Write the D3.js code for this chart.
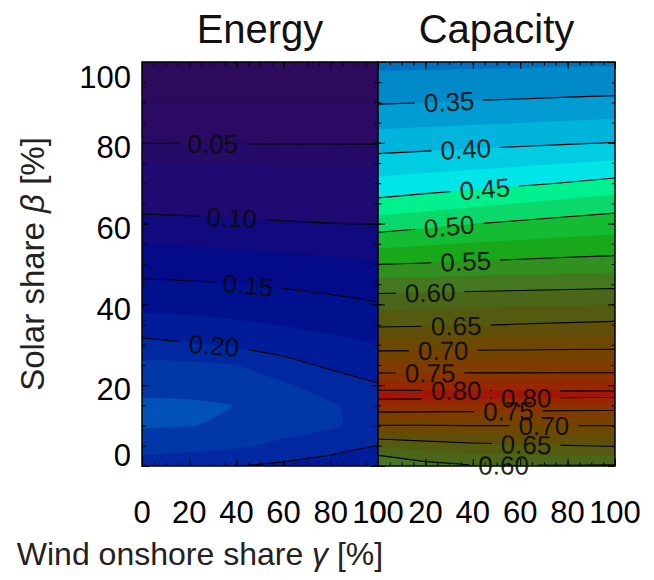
<!DOCTYPE html>
<html>
<head>
<meta charset="utf-8">
<script src="https://cdn.jsdelivr.net/npm/d3@7"></script>
<style>
  body { margin: 0; background: #fff; }
  svg { display: block; font-family: "Liberation Sans", Arial, Helvetica, sans-serif; }
</style>
</head>
<body>
<div id="chart"></div>
<script>
// grid columns: wind onshore share gamma [%]
const energyGamma = [0, 10, 20, 30, 40, 60, 80, 100];
const capacityGamma = [0, 20, 40, 60, 80, 100];

// grid rows: solar share beta [%]
const energyBeta = [0, 5, 10, 15, 20, 25, 30, 35, 40, 45, 50, 55, 60, 65, 70, 75, 80, 85, 90, 95, 100];
const capacityBeta = [0, 2.5, 5, 7.5, 10, 12.5, 15, 17.5, 20, 22.5, 25, 30, 35, 40, 45, 50, 55, 60, 65, 70, 75, 80, 85, 90, 95, 100];

// one row per beta, one value per gamma column
const energyGrid = [
  [0.215, 0.211, 0.207, 0.2038, 0.2005, 0.195, 0.190, 0.185],
  [0.2345, 0.234, 0.2335, 0.231, 0.2285, 0.2194, 0.2083, 0.1994],
  [0.252, 0.2512, 0.2505, 0.2488, 0.247, 0.2345, 0.2285, 0.2155],
  [0.2544, 0.2542, 0.2535, 0.2522, 0.2497, 0.2375, 0.2278, 0.2142],
  [0.2424, 0.242, 0.2415, 0.2392, 0.236, 0.2283, 0.2135, 0.2013],
  [0.2313, 0.2306, 0.2298, 0.2275, 0.2252, 0.2083, 0.1958, 0.1882],
  [0.2078, 0.205, 0.2023, 0.1994, 0.1964, 0.1891, 0.1819, 0.1752],
  [0.1844, 0.1835, 0.1825, 0.1806, 0.1786, 0.1737, 0.1688, 0.1633],
  [0.1677, 0.1672, 0.1666, 0.1653, 0.1639, 0.1605, 0.1563, 0.1516],
  [0.1537, 0.1531, 0.1525, 0.1514, 0.1502, 0.1472, 0.1434, 0.1396],
  [0.1394, 0.1388, 0.1381, 0.137, 0.1358, 0.133, 0.1303, 0.1274],
  [0.1252, 0.1241, 0.1231, 0.1219, 0.1207, 0.1178, 0.1156, 0.1135],
  [0.1058, 0.1052, 0.1045, 0.1037, 0.1029, 0.1013, 0.1002, 0.0995],
  [0.0936, 0.0934, 0.0931, 0.0928, 0.0925, 0.0919, 0.0914, 0.091],
  [0.0845, 0.0843, 0.0841, 0.0839, 0.0836, 0.0831, 0.0828, 0.0825],
  [0.0754, 0.0753, 0.0752, 0.0746, 0.0739, 0.0729, 0.0724, 0.0719],
  [0.0493, 0.0492, 0.049, 0.0489, 0.0488, 0.0486, 0.0486, 0.0484],
  [0.0371, 0.0371, 0.037, 0.037, 0.0369, 0.0368, 0.0368, 0.0367],
  [0.0252, 0.0252, 0.0252, 0.0252, 0.0252, 0.0252, 0.0252, 0.0252],
  [0.0185, 0.0185, 0.0185, 0.0185, 0.0185, 0.0185, 0.0185, 0.0185],
  [0.012, 0.012, 0.012, 0.012, 0.012, 0.012, 0.012, 0.012]
];

const capacityGrid = [
  [0.585, 0.592, 0.598, 0.598, 0.598, 0.597],
  [0.5989, 0.6104, 0.6189, 0.621, 0.6226, 0.6244],
  [0.628, 0.6365, 0.6425, 0.646, 0.6489, 0.6519],
  [0.6606, 0.6658, 0.6702, 0.6728, 0.6745, 0.676],
  [0.6985, 0.6987, 0.7002, 0.7002, 0.7002, 0.7002],
  [0.7364, 0.7353, 0.7347, 0.7329, 0.7321, 0.7313],
  [0.7776, 0.7759, 0.7741, 0.7707, 0.769, 0.7672],
  [0.8144, 0.8132, 0.812, 0.8104, 0.8091, 0.8078],
  [0.7854, 0.7863, 0.7872, 0.7872, 0.7882, 0.7892],
  [0.7549, 0.755, 0.7551, 0.7551, 0.7553, 0.7554],
  [0.7313, 0.7313, 0.7316, 0.7316, 0.7319, 0.7319],
  [0.6866, 0.6873, 0.6885, 0.6892, 0.6903, 0.6907],
  [0.6449, 0.6466, 0.6483, 0.6508, 0.653, 0.655],
  [0.6169, 0.6182, 0.6195, 0.6212, 0.6226, 0.6241],
  [0.5855, 0.5871, 0.5889, 0.5904, 0.592, 0.5934],
  [0.5494, 0.5514, 0.5542, 0.5562, 0.5587, 0.5605],
  [0.5177, 0.5221, 0.5263, 0.5295, 0.5327, 0.5351],
  [0.4867, 0.4928, 0.4994, 0.5045, 0.5093, 0.5132],
  [0.4566, 0.4627, 0.4689, 0.4753, 0.4817, 0.4878],
  [0.4324, 0.4364, 0.4408, 0.4459, 0.4512, 0.4573],
  [0.4099, 0.4131, 0.4165, 0.4201, 0.4242, 0.4287],
  [0.3886, 0.3909, 0.3933, 0.3954, 0.3979, 0.4004],
  [0.3683, 0.3702, 0.3725, 0.3744, 0.3767, 0.3789],
  [0.3483, 0.3496, 0.3517, 0.3534, 0.3555, 0.3573],
  [0.3312, 0.3318, 0.3326, 0.3336, 0.3346, 0.3355],
  [0.32, 0.32, 0.321, 0.321, 0.322, 0.322]
];

// filled levels every 0.025, lines every 0.05
const fillLevels = [0, 0.025, 0.05, 0.075, 0.10, 0.125, 0.15, 0.175, 0.20, 0.225, 0.25, 0.275,
  0.30, 0.325, 0.35, 0.375, 0.40, 0.425, 0.45, 0.475, 0.50, 0.525, 0.55, 0.575,
  0.60, 0.625, 0.65, 0.675, 0.70, 0.725, 0.75, 0.775, 0.80, 0.825];
const energyLineLevels = [0.05, 0.10, 0.15, 0.20];
const capacityLineLevels = [0.35, 0.40, 0.45, 0.50, 0.55, 0.60, 0.65, 0.70, 0.75, 0.80];

// where the line labels sit (gamma) and which branch of the line
const energyLabels = [
  { level: 0.05, gamma: 30, branch: "upper" },
  { level: 0.10, gamma: 38, branch: "upper" },
  { level: 0.15, gamma: 45, branch: "upper" },
  { level: 0.20, gamma: 30.5, branch: "upper" }
];
const capacityLabels = [
  { level: 0.35, gamma: 30, branch: "upper" },
  { level: 0.40, gamma: 37, branch: "upper" },
  { level: 0.45, gamma: 45, branch: "upper" },
  { level: 0.50, gamma: 30, branch: "upper" },
  { level: 0.55, gamma: 37, branch: "upper" },
  { level: 0.60, gamma: 22, branch: "upper" },
  { level: 0.65, gamma: 33, branch: "upper" },
  { level: 0.70, gamma: 27.5, branch: "upper" },
  { level: 0.75, gamma: 22, branch: "upper" },
  { level: 0.80, gamma: 33, branch: "upper" },
  { level: 0.80, gamma: 62.5, branch: "lower" },
  { level: 0.75, gamma: 55, branch: "lower" },
  { level: 0.70, gamma: 70, branch: "lower" },
  { level: 0.65, gamma: 62.5, branch: "lower" },
  { level: 0.60, gamma: 53, branch: "lower" }
];

const majorTicks = [0, 20, 40, 60, 80, 100];
const minorTicks = d3.range(0, 101, 5);

// colour of each filled band, one per fill level
const bandColors = ["#2d0b5c", "#2a0a62", "#260a68", "#1e0a70", "#100a7e", "#040b88", "#00118f", "#001c98",
  "#0028a0", "#0038a8", "#0052b8", "#0062bc", "#0070c0", "#008aca", "#009cd2", "#00b4dc",
  "#00cce2", "#00e6e8", "#00f08e", "#0ad86a", "#14bc34", "#18a81a", "#309020", "#44781e",
  "#4a6618", "#545a10", "#604f08", "#6c4802", "#764200", "#803c00", "#8c3200", "#982600",
  "#a41408", "#b00808"];

const W = 654, H = 580;
const plotTop = 62, plotBottom = 466;

const panels = [
  { title: "Energy", x0: 142, x1: 378, grid: energyGrid, cols: energyGamma, rows: energyBeta, lines: energyLineLevels, labels: energyLabels },
  { title: "Capacity", x0: 378, x1: 615, grid: capacityGrid, cols: capacityGamma, rows: capacityBeta, lines: capacityLineLevels, labels: capacityLabels }
];

const svg = d3.select("#chart").append("svg").attr("width", W).attr("height", H);
const defs = svg.append("defs");

const y = d3.scaleLinear().domain([0, 100]).range([plotBottom, plotTop]);

// where d3.contours puts a sample inside its cell
const probe = d3.contours().size([2, 1]).thresholds([0.5])([0, 1]);
const cellOff = d3.min(probe[0].coordinates[0][0], p => p[0]) - 0.5;

panels.forEach((p, pi) => {
  const x = d3.scaleLinear().domain([0, 100]).range([p.x0, p.x1]);
  const nx = p.cols.length, ny = p.rows.length;
  const colScale = d3.scaleLinear().domain(p.cols.map((d, i) => i + cellOff)).range(p.cols);
  const rowScale = d3.scaleLinear().domain(p.rows.map((d, j) => j + cellOff)).range(p.rows);
  const px = c => x(colScale(c));
  const py = r => y(rowScale(r));
  const path = d3.geoPath(d3.geoTransform({
    point(cx, cy) { this.stream.point(px(cx), py(cy)); }
  }));
  const values = p.grid.flat();

  defs.append("clipPath").attr("id", `clip${pi}`)
    .append("rect")
    .attr("x", p.x0).attr("y", plotTop)
    .attr("width", p.x1 - p.x0).attr("height", plotBottom - plotTop);

  const plot = svg.append("g").attr("clip-path", `url(#clip${pi})`);

  // filled bands
  plot.append("g")
    .selectAll("path")
    .data(d3.contours().size([nx, ny]).thresholds(fillLevels)(values))
    .join("path")
    .attr("d", path)
    .attr("fill", (d, i) => bandColors[i])
    .attr("stroke", (d, i) => bandColors[i])
    .attr("stroke-width", 0.4);

  // contour lines, with gaps under the labels
  const mask = defs.append("mask").attr("id", `gap${pi}`)
    .attr("maskUnits", "userSpaceOnUse")
    .attr("x", 0).attr("y", 0).attr("width", W).attr("height", H);
  mask.append("rect").attr("width", W).attr("height", H).attr("fill", "white");

  plot.append("g")
    .attr("mask", `url(#gap${pi})`)
    .selectAll("path")
    .data(d3.contours().size([nx, ny]).thresholds(p.lines)(values))
    .join("path")
    .attr("d", path)
    .attr("fill", "none")
    .attr("stroke", "#000")
    .attr("stroke-width", 1.1);

  // labels on the lines
  const labelG = svg.append("g");
  p.labels.forEach(lb => {
    const c = d3.contours().size([nx, ny]).thresholds([lb.level])(values)[0];
    const X = x(lb.gamma);
    const hits = [];
    c.coordinates.forEach(poly => poly.forEach(ring => {
      for (let k = 0; k < ring.length - 1; k++) {
        const ax = px(ring[k][0]), ay = py(ring[k][1]);
        const bx = px(ring[k + 1][0]), by = py(ring[k + 1][1]);
        if (ax === bx || (ax - X) * (bx - X) > 0) continue;
        const t = (X - ax) / (bx - ax);
        const yy = ay + t * (by - ay);
        if (yy < plotTop || yy > plotBottom) continue;
        let a = Math.atan2(by - ay, bx - ax) * 180 / Math.PI;
        if (a > 90) a -= 180;
        if (a < -90) a += 180;
        hits.push({ y: yy, a });
      }
    }));
    if (!hits.length) return;
    const h = lb.branch === "upper" ? d3.least(hits, d => d.y) : d3.greatest(hits, d => d.y);
    const txt = labelG.append("text")
      .attr("transform", `translate(${X},${h.y}) rotate(${h.a})`)
      .attr("text-anchor", "middle")
      .attr("dy", "0.36em")
      .attr("font-size", 26)
      .attr("fill", "#0a0a0a")
      .attr("fill-opacity", 0.9)
      .text(lb.level.toFixed(2));
    const w = txt.node().getComputedTextLength() + 18;
    mask.append("rect")
      .attr("x", -w / 2).attr("y", -12)
      .attr("width", w).attr("height", 24)
      .attr("transform", `translate(${X},${h.y}) rotate(${h.a})`)
      .attr("fill", "black");
  });

  // ticks on all four sides, pointing inwards
  const tickG = svg.append("g");
  const sides = [
    [d3.axisBottom(x), `translate(0,${plotBottom})`],
    [d3.axisTop(x), `translate(0,${plotTop})`],
    [d3.axisLeft(y), `translate(${p.x0},0)`],
    [d3.axisRight(y), `translate(${p.x1},0)`]
  ];
  sides.forEach(([ax, tr]) => {
    tickG.append("g").attr("transform", tr)
      .call(ax.tickValues(minorTicks).tickSize(-3.5).tickFormat(""))
      .call(g => g.select(".domain").remove());
    tickG.append("g").attr("transform", tr)
      .call(ax.tickValues(majorTicks).tickSize(-7).tickFormat(""))
      .call(g => g.select(".domain").remove());
  });
  tickG.selectAll("line").attr("stroke", "#000").attr("stroke-width", 1);

  svg.append("rect")
    .attr("x", p.x0).attr("y", plotTop)
    .attr("width", p.x1 - p.x0).attr("height", plotBottom - plotTop)
    .attr("fill", "none").attr("stroke", "#000").attr("stroke-width", 1.5);

  // x tick labels
  svg.append("g").selectAll("text")
    .data(majorTicks)
    .join("text")
    .attr("x", d => x(d))
    .attr("y", 523)
    .attr("text-anchor", "middle")
    .attr("font-size", 31)
    .attr("fill", "#000")
    .text(d => d);

  svg.append("text")
    .attr("x", (p.x0 + p.x1) / 2)
    .attr("y", 43)
    .attr("text-anchor", "middle")
    .attr("font-size", 40)
    .attr("fill", "#111")
    .text(p.title);
});

// y tick labels (kept inside the frame at both ends)
svg.append("g").selectAll("text")
  .data(majorTicks)
  .join("text")
  .attr("x", 131)
  .attr("y", d => Math.max(plotTop + 15, Math.min(plotBottom - 11, y(d) + 4)))
  .attr("dy", "0.36em")
  .attr("text-anchor", "end")
  .attr("font-size", 31)
  .attr("fill", "#000")
  .text(d => d);

// axis titles
const yTitle = svg.append("text")
  .attr("transform", `translate(44,${(plotTop + plotBottom) / 2}) rotate(-90)`)
  .attr("text-anchor", "middle")
  .attr("font-size", 33)
  .attr("fill", "#222");
yTitle.append("tspan").text("Solar share ");
yTitle.append("tspan").attr("font-style", "italic").text("β");
yTitle.append("tspan").text(" [%]");

const xTitle = svg.append("text")
  .attr("x", 200)
  .attr("y", 565)
  .attr("text-anchor", "middle")
  .attr("font-size", 32)
  .attr("fill", "#222");
xTitle.append("tspan").text("Wind onshore share ");
xTitle.append("tspan").attr("font-style", "italic").text("γ");
xTitle.append("tspan").text(" [%]");
</script>
</body>
</html>
